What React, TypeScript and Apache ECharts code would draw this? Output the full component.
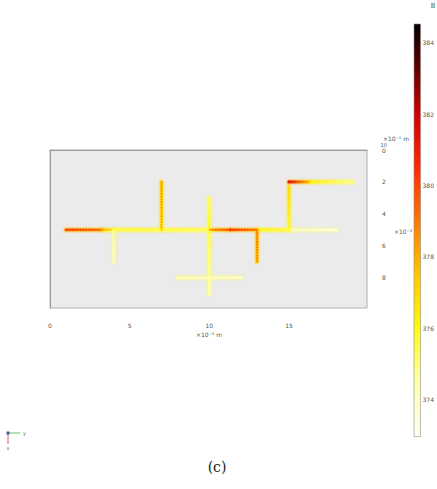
import React, { useEffect, useRef } from "react";
import * as echarts from "echarts";

// Axis tick labels (units of 1e-3 m)
const xTicks = [0, 5, 10, 15];
const yTicks = [0, 2, 4, 6, 8];
const xDomain = [0, 19.9];
const yDomain = [0, 9.9];

// Colour bar (temperature, K)
const colorbarTicks = [374, 376, 378, 380, 382, 384];
const tempRange = [372.97, 384.52];

// Heated traces: [x1, y1, x2, y2, T at start, T at end]
const traces: number[][] = [
  [1, 5, 3.3, 5, 380.2, 379.4],
  [3.3, 5, 4, 5, 378, 376.6],
  [4, 5, 10, 5, 376.5, 376.3],
  [10, 5, 11.3, 5, 378.6, 379.8],
  [11.3, 5, 13, 5, 380.4, 379.2],
  [13, 5, 15, 5, 377, 376.4],
  [15, 5, 18, 5, 375.2, 374.6],
  [4, 5, 4, 7, 375.6, 375],
  [7, 2, 7, 5, 378.4, 377.8],
  [10, 3, 10, 5, 376, 376.6],
  [10, 5, 10, 9, 376.3, 375.3],
  [8, 8, 12, 8, 375.2, 374.9],
  [13, 5, 13, 7, 379, 378.6],
  [15, 5, 15, 2.3, 376.6, 377.8],
  [15, 2, 16.3, 2, 381.8, 378],
  [16.3, 2, 19, 2, 377.2, 375.8],
];

// Colormap stops (temperature -> colour)
const cmapT = [373, 374.5, 376, 377.5, 379, 380.5, 382, 383.5, 384.6];
const cmapC = [
  [255, 255, 242],
  [255, 255, 176],
  [255, 250, 16],
  [255, 200, 0],
  [255, 120, 0],
  [255, 40, 0],
  [208, 0, 0],
  [80, 0, 0],
  [0, 0, 0],
];

function colorAt(t: number): string {
  if (t <= cmapT[0]) return `rgb(${cmapC[0].join(",")})`;
  for (let i = 1; i < cmapT.length; i++) {
    if (t <= cmapT[i]) {
      const f = (t - cmapT[i - 1]) / (cmapT[i] - cmapT[i - 1]);
      const a = cmapC[i - 1];
      const b = cmapC[i];
      const c = a.map((v, k) => Math.round(v + (b[k] - v) * f));
      return `rgb(${c.join(",")})`;
    }
  }
  return `rgb(${cmapC[cmapC.length - 1].join(",")})`;
}

const FONT = "DejaVu Sans";
const LABEL = "#555555";

type Layer = {
  width: number;
  opacity: number;
  map: (t: number) => number;
  core?: boolean;
};

const layers: Layer[] = [
  { width: 6.8, opacity: 0.14, map: (t) => 375.6 + (t - 375) * 0.35 },
  { width: 5.2, opacity: 0.28, map: (t) => 375.6 + (t - 375) * 0.45 },
  { width: 3.8, opacity: 0.5, map: (t) => t - 1.5 },
  { width: 2.6, opacity: 0.92, map: (t) => t - 0.8 },
  { width: 1.4, opacity: 1, map: (t) => t + 0.6, core: true },
];

function makeLayer(layer: Layer, idx: number) {
  return {
    type: "custom",
    xAxisIndex: 0,
    yAxisIndex: 0,
    data: traces,
    encode: { x: [0, 2], y: [1, 3] },
    silent: true,
    z: 2 + idx,
    renderItem: (params: any, api: any) => {
      const p1 = api.coord([api.value(0), api.value(1)]);
      const p2 = api.coord([api.value(2), api.value(3)]);
      const t1 = api.value(4);
      const t2 = api.value(5);
      const peak = Math.max(t1, t2);
      const hot = peak > 377.9;
      const faint = peak < 375.8;
      const grad = {
        type: "linear",
        x: p1[0],
        y: p1[1],
        x2: p2[0] + (p1[0] === p2[0] ? 0.001 : 0),
        y2: p2[1] + (p1[1] === p2[1] ? 0.001 : 0),
        global: true,
        colorStops: [
          { offset: 0, color: colorAt(layer.map(t1)) },
          { offset: 1, color: colorAt(layer.map(t2)) },
        ],
      };
      const style: any = {
        stroke: grad,
        fill: null,
        lineWidth: layer.width,
        opacity: layer.opacity * (faint ? 0.75 : 1),
        lineCap: "round",
      };
      if (layer.core) {
        if (!hot) return null;
        style.lineCap = "butt";
        style.lineDash = [1.4, 1.4];
      }
      return {
        type: "line",
        shape: { x1: p1[0], y1: p1[1], x2: p2[0], y2: p2[1] },
        style,
      };
    },
  };
}

export default function App() {
  const ref = useRef<HTMLDivElement>(null);
  useEffect(() => {
    if (!ref.current) return;
    const chart = echarts.init(ref.current, undefined, { renderer: "svg" });
    const [tMin, tMax] = tempRange;
    const cbStops = cmapT
      .map((t, i) => ({
        offset: Math.min(1, Math.max(0, (tMax - t) / (tMax - tMin))),
        color: `rgb(${cmapC[i].join(",")})`,
      }))
      .sort((a, b) => a.offset - b.offset);

    const option: any = {
      animation: false,
      backgroundColor: "#ffffff",
      grid: [
        {
          left: 50,
          top: 150,
          width: 317,
          height: 158,
          show: true,
          backgroundColor: "#ebebeb",
          borderColor: "#b0b0b0",
          borderWidth: 1,
        },
        { left: 414, top: 24, width: 7, height: 412.5, show: false },
      ],
      xAxis: [
        {
          type: "value",
          gridIndex: 0,
          min: xDomain[0],
          max: xDomain[1],
          interval: 5,
          position: "bottom",
          offset: 11,
          axisLine: { show: true, lineStyle: { color: "#9a9a9a", width: 1 } },
          axisTick: { show: false },
          splitLine: { show: false },
          axisLabel: {
            fontSize: 6,
            color: LABEL,
            fontFamily: FONT,
            margin: 3,
            customValues: xTicks,
          },
        },
        { type: "category", gridIndex: 1, data: ["T"], show: false },
      ],
      yAxis: [
        {
          type: "value",
          gridIndex: 0,
          min: yDomain[0],
          max: yDomain[1],
          interval: 2,
          inverse: true,
          position: "right",
          offset: 10,
          axisLine: { show: true, lineStyle: { color: "#9a9a9a", width: 1 } },
          axisTick: { show: false },
          splitLine: { show: false },
          axisLabel: {
            fontSize: 6,
            color: LABEL,
            fontFamily: FONT,
            margin: 5,
            customValues: yTicks,
          },
        },
        {
          type: "value",
          gridIndex: 1,
          min: tMin,
          max: tMax,
          position: "right",
          axisLine: { show: false },
          splitLine: { show: false },
          axisTick: {
            show: true,
            inside: true,
            length: 2,
            lineStyle: { color: "#555", width: 0.6 },
            customValues: colorbarTicks,
          },
          axisLabel: {
            fontSize: 6,
            color: LABEL,
            fontFamily: FONT,
            margin: 2,
            customValues: colorbarTicks,
          },
        },
      ],
      series: [
        ...layers.map((l, i) => makeLayer(l, i)),
        {
          type: "custom",
          xAxisIndex: 1,
          yAxisIndex: 1,
          data: [[0, tMax]],
          silent: true,
          renderItem: (params: any) => {
            const cs = params.coordSys;
            return {
              type: "rect",
              shape: { x: cs.x, y: cs.y, width: cs.width, height: cs.height },
              style: {
                fill: {
                  type: "linear",
                  x: 0,
                  y: 0,
                  x2: 0,
                  y2: 1,
                  colorStops: cbStops,
                },
                stroke: "#8c8c8c",
                lineWidth: 0.6,
              },
            };
          },
        },
      ],
      graphic: [
        {
          type: "text",
          x: 209,
          y: 334,
          style: {
            text: "×10⁻³ m",
            fontSize: 6,
            fill: LABEL,
            fontFamily: FONT,
            align: "center",
            verticalAlign: "middle",
          },
        },
        {
          type: "text",
          x: 394,
          y: 231,
          style: {
            text: "×10⁻³ m",
            fontSize: 6,
            fill: LABEL,
            fontFamily: FONT,
            align: "left",
            verticalAlign: "middle",
          },
        },
        {
          type: "text",
          x: 383,
          y: 138,
          style: {
            text: "×10⁻¹ m",
            fontSize: 6,
            fill: LABEL,
            fontFamily: FONT,
            align: "left",
            verticalAlign: "middle",
          },
        },
        {
          type: "text",
          x: 380.5,
          y: 145,
          style: {
            text: "10",
            fontSize: 5,
            fill: LABEL,
            fontFamily: FONT,
            align: "left",
            verticalAlign: "middle",
          },
        },
        {
          type: "text",
          x: 217,
          y: 467,
          style: {
            text: "(c)",
            fontSize: 14,
            fill: "#222",
            fontFamily: "DejaVu Serif",
            align: "center",
            verticalAlign: "middle",
          },
        },
        // coordinate triad
        {
          type: "line",
          shape: { x1: 9, y1: 433, x2: 20, y2: 433 },
          style: { stroke: "#6cbf6c", lineWidth: 1 },
        },
        {
          type: "line",
          shape: { x1: 8, y1: 434, x2: 8, y2: 444 },
          style: { stroke: "#d0607a", lineWidth: 1 },
        },
        {
          type: "rect",
          shape: { x: 6.5, y: 431.5, width: 3, height: 3 },
          style: { fill: "#3b5fa8" },
        },
        {
          type: "text",
          x: 23,
          y: 433,
          style: { text: "y", fontSize: 5, fill: "#666", fontFamily: FONT, verticalAlign: "middle" },
        },
        {
          type: "text",
          x: 8,
          y: 448,
          style: { text: "x", fontSize: 5, fill: "#666", fontFamily: FONT, align: "center", verticalAlign: "middle" },
        },
        // small icon top-right
        {
          type: "rect",
          shape: { x: 431, y: 3, width: 4, height: 5 },
          style: { fill: "#7fb8d6" },
        },
        {
          type: "rect",
          shape: { x: 432.5, y: 4.5, width: 2, height: 2 },
          style: { fill: "#b5d36a" },
        },
      ],
    };
    chart.setOption(option);
    return () => chart.dispose();
  }, []);
  return (
    <div
      ref={ref}
      style={{ position: "absolute", left: 0, top: 0, width: 437, height: 489 }}
    />
  );
}
